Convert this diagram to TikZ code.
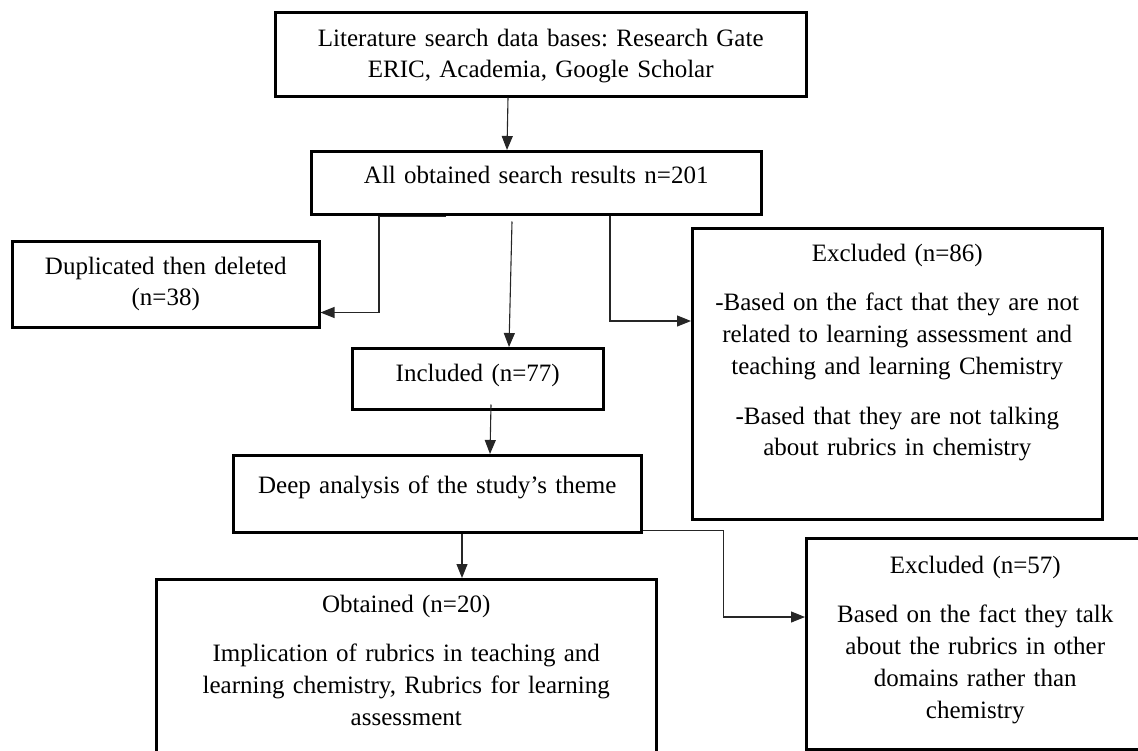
\documentclass[tikz,border=0pt]{standalone}
\usepackage{fontspec}
\setmainfont{Liberation Serif}
\usetikzlibrary{arrows.meta}
\frenchspacing

\begin{document}
\begin{tikzpicture}[x=1pt,y=-1pt,
  box/.style={draw,line width=2.5pt,anchor=north west,inner sep=0pt,align=center,
    font=\fontsize{25}{31.7}\selectfont},
  link/.style={line width=1.1pt,black!85},
  >={Triangle[length=14pt,width=11pt]}]
\useasboundingbox (0,0) rectangle (1138,750);

\node[box,text width=531pt,text height=34pt,text depth=50pt] (lit) at (274,11)
 {Literature search data bases: Research Gate\\ERIC, Academia, Google Scholar};
\node[box,text width=450pt,text height=32pt,text depth=31pt] (all) at (310,150)
 {All obtained search results n=201};
\node[box,text width=307pt,text height=33pt,text depth=53pt] (dup) at (11,240)
 {Duplicated then deleted\\(n=38)};
\node[box,text width=251pt,text height=33pt,text depth=28pt] (incl) at (351,347)
 {Included (n=77)};
\node[box,text width=410pt,text height=33pt,text depth=258pt] (exa) at (691,227)
 {Excluded (n=86)\\[18pt]-Based on the fact that they are not\\related to learning assessment and\\teaching and learning Chemistry\\[18pt]-Based that they are not talking\\about rubrics in chemistry};
\node[box,text width=408pt,text height=38pt,text depth=39pt] (deep) at (232,454)
 {Deep analysis of the study’s theme};
\node[box,text width=500pt,text height=33pt,text depth=150pt] (obt) at (155,578)
 {Obtained (n=20)\\[18pt]Implication of rubrics in teaching and\\learning chemistry, Rubrics for learning\\assessment};
\node[box,text width=338pt,text height=35pt,text depth=176pt] (exb) at (805,537)
 {Excluded (n=57)\\[18pt]Based on the fact they talk\\about the rubrics in other\\domains rather than\\chemistry};

\draw[link,->] ([xshift=234pt]lit.south west) -- ([xshift=197pt]all.north west);
\draw[link,->] ([xshift=136pt,yshift=-1pt]all.south west) -- ++(-67,0) |- ([yshift=16pt]dup.south east);
\draw[link,->] ([xshift=202pt,yshift=-6pt]all.south west) -- ([xshift=158pt]incl.north west);
\draw[link,->] ([xshift=300pt]all.south west) |- ([yshift=-94pt]exa.north west);
\draw[link,->] ([xshift=140pt,yshift=6pt]incl.south west) -- ([xshift=258pt]deep.north west);
\draw[link,->] ([xshift=230pt]deep.south west) -- ([xshift=307pt]obt.north west);
\draw[link,->] ([yshift=3pt]deep.south east) -- ++(81,0) |- ([yshift=-80pt]exb.north west);

\end{tikzpicture}
\end{document}
